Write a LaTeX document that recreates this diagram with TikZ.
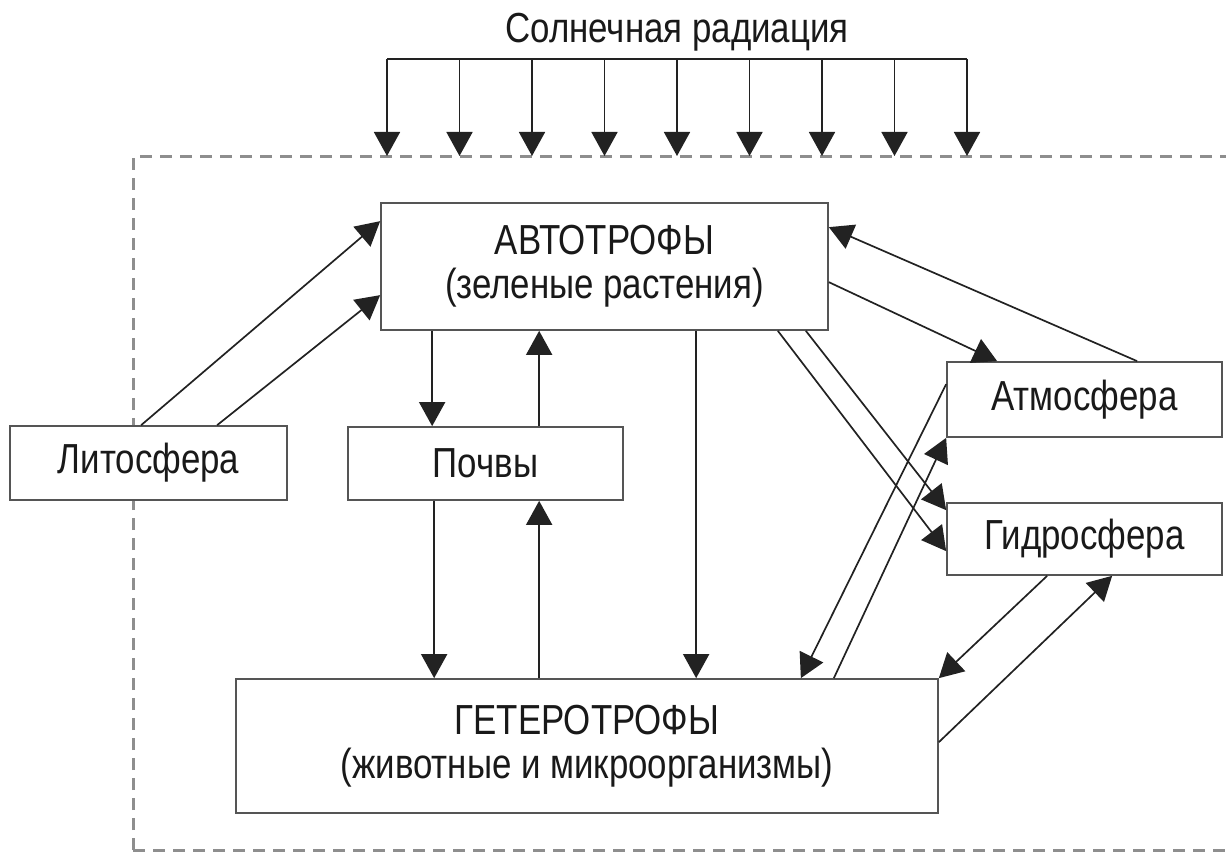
\documentclass[tikz,border=0pt]{standalone}
\usepackage{fontspec}
\setmainfont{Liberation Sans}[FakeStretch=0.83]
\usetikzlibrary{arrows.meta}
\definecolor{boxline}{HTML}{555555}
\definecolor{arrline}{HTML}{222222}
\definecolor{frameline}{HTML}{8E8E8E}
\tikzset{
  box/.style={draw=boxline, fill=white, line width=1.7pt, inner sep=0pt, align=center,
    font=\fontsize{42}{44}\selectfont, text=black!90},
  arr/.style={draw=arrline, line width=1.7pt, -{Triangle[length=24pt,width=26pt]}},
  frame/.style={draw=frameline, line width=3pt, dash pattern=on 12pt off 8pt},
}
\begin{document}
\begin{tikzpicture}[x=1pt,y=-1pt]
\useasboundingbox (0,0) rectangle (1227,853);
% dashed frame
\draw[frame] (133,850) -- (133,157) -- (1226,157);
\draw[frame] (133,850) -- (1226,850);
% title
\node[anchor=base, inner sep=0pt, font=\fontsize{42}{44}\selectfont, text=black!90] (title) at (677,43) {Солнечная радиация};
% solar arrows
\coordinate (sl) at (387,59);
\coordinate (sr) at (967,59);
\draw[draw=arrline, line width=1.7pt] (sl) -- (sr);
\foreach \i in {0,...,8}{
  \coordinate (s\i) at ({387+72.5*\i},59);
  \coordinate (t\i) at ({387+72.5*\i},156);
  \draw[arr] (s\i) -- (t\i);
}
% boxes
\node[box, minimum width=447pt, minimum height=127pt] (auto) at (604.5,266.5) {АВТОТРОФЫ\\(зеленые растения)};
\node[box, minimum width=277pt, minimum height=74pt] (lito) at (148.5,463) {Литосфера};
\node[box, minimum width=275pt, minimum height=73pt] (poch) at (485.5,463.5) {Почвы};
\node[box, minimum width=702pt, minimum height=134pt] (het) at (587,746) {ГЕТЕРОТРОФЫ\\(животные и микроорганизмы)};
\node[box, minimum width=275pt, minimum height=75pt] (atmo) at (1084.5,399.5) {Атмосфера};
\node[box, minimum width=275pt, minimum height=72pt] (hydro) at (1084.5,539) {Гидросфера};
% connectors
\draw[arr] ([xshift=132pt]lito.north west) -- ([yshift=-19pt]auto.north west);
\draw[arr] ([xshift=208pt]lito.north west) -- ([yshift=-93pt]auto.north west);
\draw[arr] ([xshift=52pt]auto.south west) -- ([xshift=85pt]poch.north west);
\draw[arr] ([xshift=192pt]poch.north west) -- ([xshift=159pt]auto.south west);
\draw[arr] ([xshift=87pt]poch.south west) -- ([xshift=199pt]het.north west);
\draw[arr] ([xshift=304pt]het.north west) -- ([xshift=192pt]poch.south west);
\draw[arr] ([xshift=316pt]auto.south west) -- ([xshift=461pt]het.north west);
\draw[arr] ([xshift=191pt]atmo.north west) -- ([yshift=-25pt]auto.north east);
\draw[arr] ([yshift=-80pt]auto.north east) -- ([xshift=51pt]atmo.north west);
\draw[arr] ([xshift=-23pt]auto.south east) -- ([yshift=-8pt]hydro.north west);
\draw[arr] ([xshift=-51pt]auto.south east) -- ([yshift=-49pt]hydro.north west);
\draw[arr] ([yshift=-23pt]atmo.north west) -- ([xshift=-138pt]het.north east);
\draw[arr] ([xshift=-105pt]het.north east) -- (atmo.south west);
\draw[arr] ([xshift=101pt]hydro.south west) -- (het.north east);
\draw[arr] ([yshift=-64pt]het.north east) -- ([xshift=166pt]hydro.south west);
\end{tikzpicture}
\end{document}
